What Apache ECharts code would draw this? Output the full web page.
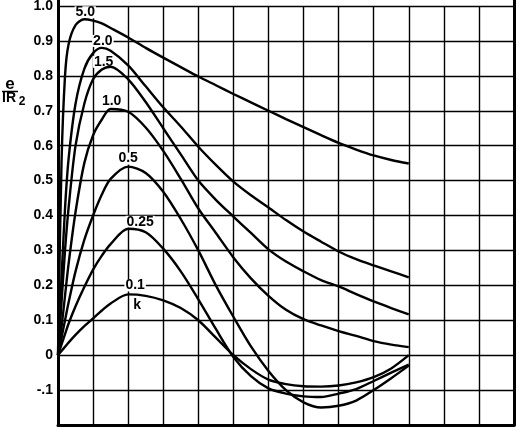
<!DOCTYPE html>
<html><head><meta charset="utf-8">
<script src="https://cdn.jsdelivr.net/npm/echarts@6/dist/echarts.min.js"></script>
<style>html,body{margin:0;padding:0;background:#fff}#c{width:517px;height:429px}</style>
</head><body><div id="c"></div>
<script>
// time axis positions (grid units)
const xs = [0, 0.1, 0.2, 0.3, 0.5, 0.75, 1, 1.25, 1.5, 2, 2.5, 3, 3.5, 4, 4.5, 5, 5.5, 6, 6.5, 7, 7.5, 8, 8.5, 9, 9.5, 10];
// e / IR2 for each k
const k50 = [0, 0.55, 0.80, 0.89, 0.945, 0.962, 0.958, 0.95, 0.937, 0.91, 0.88, 0.852, 0.825, 0.798, 0.773, 0.748, 0.724, 0.70, 0.676, 0.653, 0.63, 0.608, 0.589, 0.572, 0.559, 0.549];
const k20 = [0, 0.22, 0.42, 0.56, 0.72, 0.82, 0.865, 0.88, 0.872, 0.83, 0.77, 0.71, 0.655, 0.597, 0.545, 0.497, 0.458, 0.423, 0.387, 0.354, 0.325, 0.297, 0.275, 0.257, 0.24, 0.223];
const k15 = [0, 0.15, 0.30, 0.42, 0.60, 0.72, 0.79, 0.818, 0.826, 0.79, 0.725, 0.65, 0.575, 0.50, 0.445, 0.397, 0.35, 0.303, 0.268, 0.24, 0.215, 0.197, 0.175, 0.154, 0.135, 0.117];
const k10 = [0, 0.08, 0.17, 0.26, 0.41, 0.55, 0.63, 0.675, 0.705, 0.697, 0.652, 0.585, 0.505, 0.42, 0.35, 0.28, 0.22, 0.17, 0.13, 0.103, 0.085, 0.069, 0.055, 0.04, 0.03, 0.023];
const k05 = [0, 0.05, 0.10, 0.15, 0.24, 0.33, 0.40, 0.46, 0.505, 0.54, 0.522, 0.468, 0.39, 0.30, 0.20, 0.11, 0.025, -0.045, -0.10, -0.135, -0.15, -0.145, -0.13, -0.10, -0.066, -0.03];
const k025 = [0, 0.03, 0.06, 0.09, 0.14, 0.195, 0.245, 0.285, 0.318, 0.362, 0.352, 0.305, 0.24, 0.16, 0.075, -0.005, -0.06, -0.095, -0.11, -0.118, -0.12, -0.11, -0.097, -0.074, -0.05, -0.027];
const k01 = [0, 0.012, 0.024, 0.036, 0.058, 0.083, 0.105, 0.128, 0.148, 0.174, 0.170, 0.157, 0.135, 0.10, 0.05, 0.0, -0.04, -0.07, -0.083, -0.089, -0.09, -0.087, -0.078, -0.063, -0.038, 0.0];
const kNames = ['5.0', '2.0', '1.5', '1.0', '0.5', '0.25', '0.1'];
const yTickValues = [-0.2, -0.1, 0, 0.1, 0.2, 0.3, 0.4, 0.5, 0.6, 0.7, 0.8, 0.9, 1.0];
const yTickLabels = ['', '-.1', '0', '0.1', '0.2', '0.3', '0.4', '0.5', '0.6', '0.7', '0.8', '0.9', '1.0'];

const curveData = [k50, k20, k15, k10, k05, k025, k01];
// label offsets (pixels) relative to each curve's peak
const labelOffsets = [[1, -7], [1, -7], [-7, -5], [1, -8], [0, -8], [12, -7], [7, -9]];

const FONT = 'Liberation Sans';
const lineSeries = curveData.map((vals, i) => ({
  type: 'line', name: kNames[i], z: 3,
  data: xs.map((x, j) => [x, vals[j]]),
  smooth: 0.3, symbol: 'none',
  lineStyle: { color: '#000', width: 2.4 }
}));

const labelData = [];
curveData.forEach((vals, i) => {
  let m = 0;
  vals.forEach((v, j) => { if (v > vals[m]) m = j; });
  labelData.push({ value: [xs[m], vals[m]], name: kNames[i], label: { offset: labelOffsets[i] } });
  if (kNames[i] === '0.1') {
    labelData.push({ value: [xs[m], vals[m]], name: 'k', label: { offset: [9, 11], backgroundColor: 'transparent' } });
  }
});

const chart = echarts.init(document.getElementById('c'), null, { renderer: 'canvas' });
chart.setOption({
  animation: false,
  backgroundColor: '#fff',
  grid: { left: 58, right: 3, top: 6, bottom: 4, containLabel: false, outerBoundsMode: 'none' },
  xAxis: {
    type: 'value', min: 0, max: 13, interval: 1,
    axisLine: { show: true, onZero: false, lineStyle: { color: '#000', width: 3 } },
    axisTick: { show: false }, axisLabel: { show: false },
    splitLine: { show: true, lineStyle: { color: '#000', width: 1.4 } }
  },
  yAxis: [{
    type: 'value', min: -0.2, max: 1.0, interval: 0.1,
    axisLine: { show: true, onZero: false, lineStyle: { color: '#000', width: 3 } },
    axisTick: { show: false },
    axisLabel: {
      color: '#000', fontSize: 14, fontWeight: 'bold', fontFamily: FONT, margin: 5,
      formatter: v => { const i = yTickValues.findIndex(t => Math.abs(t - v) < 1e-6); return i >= 0 ? yTickLabels[i] : ''; }
    },
    splitLine: { show: true, lineStyle: { color: '#000', width: 1.4 } }
  }, {
    type: 'value', position: 'right', min: -0.2, max: 1.0, interval: 0.1,
    axisLine: { show: true, onZero: false, lineStyle: { color: '#000', width: 3 } },
    axisTick: { show: false }, axisLabel: { show: false }, splitLine: { show: false }
  }],
  series: lineSeries.concat([{
    type: 'scatter', z: 1, symbolSize: 0, itemStyle: { color: '#fff', opacity: 1 },
    emphasis: { disabled: true },
    data: labelData,
    label: {
      show: true, position: 'inside', formatter: '{b}', color: '#000', opacity: 1,
      fontSize: 14, fontWeight: 'bold', fontFamily: FONT,
      backgroundColor: '#fff', padding: [0, 1], lineHeight: 12
    }
  }]),
  graphic: [
    { type: 'line', shape: { x1: 58.5, y1: 0, x2: 58.5, y2: 7 }, style: { stroke: '#000', lineWidth: 3 } },
    { type: 'line', shape: { x1: 514.5, y1: 0, x2: 514.5, y2: 7 }, style: { stroke: '#000', lineWidth: 3 } },
    { type: 'text', x: 10, y: 84, style: { text: 'e', fill: '#000', font: 'bold 17px "Liberation Sans"', align: 'center', verticalAlign: 'middle', textAlign: 'center', textVerticalAlign: 'middle' } },
    { type: 'line', shape: { x1: 2, y1: 91.5, x2: 18, y2: 91.5 }, style: { stroke: '#000', lineWidth: 1.5 } },
    { type: 'text', x: 9, y: 98.5, style: { text: 'IR', fill: '#000', font: 'bold 14px "Liberation Sans"', align: 'center', verticalAlign: 'middle', textAlign: 'center', textVerticalAlign: 'middle' } },
    { type: 'text', x: 22, y: 101.5, style: { text: '2', fill: '#000', font: 'bold 12px "Liberation Sans"', align: 'center', verticalAlign: 'middle', textAlign: 'center', textVerticalAlign: 'middle' } }
  ]
});
</script></body></html>
